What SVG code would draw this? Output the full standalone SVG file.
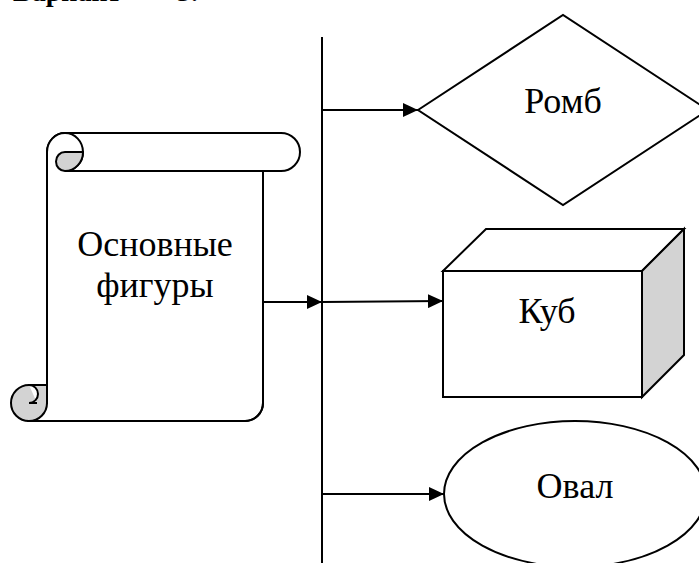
<svg xmlns="http://www.w3.org/2000/svg" width="699" height="563" viewBox="0 0 699 563">
<style>
.ln{fill:none;stroke:#000;stroke-width:2}
.sh{fill:#fff;stroke:#000;stroke-width:2}
.gr{fill:#d3d3d3;stroke:#000;stroke-width:2}
text{font-family:'Liberation Serif','Times New Roman',serif;fill:#000}
.lbl{font-size:36px}
.hd{font-size:28px;font-weight:bold}
</style>
<defs>
<marker id="ah" markerUnits="userSpaceOnUse" markerWidth="16" markerHeight="14" refX="15" refY="7" orient="auto">
<path d="M0,0 L15,7 L0,14 Z" fill="#000"/>
</marker>
</defs>
<rect width="699" height="563" fill="#fff"/>
<g id="heading">
<text class="hd" x="13" y="1">Вариант</text>
<text class="hd" x="177" y="1">3.</text>
</g>
<g id="scroll">
<path class="sh" d="M47,152 A18,19 0 0 1 65,133 L281,133 A19,19 0 0 1 281,171 L263,171 L263,403 A18,18 0 0 1 245,421 L29,421 L47,403 Z"/>
<path class="sh" d="M47,403 L47,152 A18,19 0 0 1 65,133 A18,19 0 0 1 65,171 L263,171"/>
<path class="gr" d="M65,152 L83,152 A18,19 0 0 1 65,171 A9,9.5 0 0 1 65,152 Z"/>
<path class="gr" d="M29,385 A18,18 0 1 0 47,403 L47,385 Z" style="stroke:none"/>
<path class="ln" d="M29,421 A18,18 0 0 1 29,385 L47,385"/>
<path class="ln" d="M29,421 A18,18 0 0 0 47,403"/>
<path class="sh" d="M29,385 A9,9 0 0 1 29,403 L37,403"/>
<path class="ln" d="M47,152 L47,403"/>
<path class="ln" d="M263,171 L263,403 A18,18 0 0 1 245,421 L29,421"/>
<text class="lbl" x="155" y="256" text-anchor="middle">Основные</text>
<text class="lbl" x="155" y="297" text-anchor="middle">фигуры</text>
</g>
<g id="romb">
<path class="sh" d="M418,110 L563,15 L708,110 L563,205 Z"/>
<text class="lbl" x="563" y="113" text-anchor="middle">Ромб</text>
</g>
<g id="cube">
<path class="sh" d="M443,271 L486,229 L684,229 L642,271 Z"/>
<path class="gr" d="M642,271 L684,229 L684,355 L642,397 Z"/>
<rect class="sh" x="443" y="271" width="199" height="126"/>
<text class="lbl" x="547" y="323" text-anchor="middle">Куб</text>
</g>
<g id="oval">
<ellipse class="sh" cx="575" cy="494" rx="131" ry="73"/>
<text class="lbl" x="575" y="498" text-anchor="middle">Овал</text>
</g>
<g id="connectors">
<path class="ln" d="M322,37 L322,563"/>
<path class="ln" d="M322,110 L418,110" marker-end="url(#ah)"/>
<path class="ln" d="M263,302 L322,302" marker-end="url(#ah)"/>
<path class="ln" d="M322,302 L443,301" marker-end="url(#ah)"/>
<path class="ln" d="M322,494 L444,494" marker-end="url(#ah)"/>
</g>
</svg>
